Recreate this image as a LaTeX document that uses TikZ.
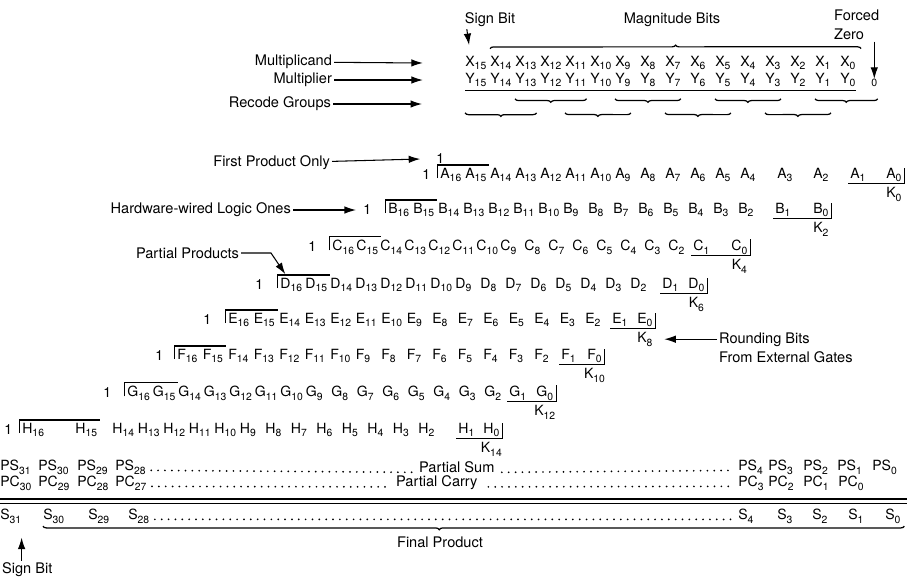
\documentclass[tikz,border=0pt]{standalone}
\usepackage{fontspec}
\setmainfont{TeX Gyre Heros}
\usetikzlibrary{arrows.meta, calc, decorations.pathreplacing}
\newcommand\bsub[1]{\raisebox{-0.5ex}{\fontsize{5.9}{6}\selectfont #1}}
\tikzset{
  bit/.style={inner sep=0pt, anchor=west, font=\fontsize{8}{9}\selectfont},
  lbl/.style={inner sep=1pt, font=\fontsize{8.3}{10}\selectfont},
  brk/.style={line width=0.6pt},
  ptr/.style={-{Latex[length=2.3mm,width=1.5mm]}, line width=0.6pt},
  dotrow/.style={line width=1.1pt, line cap=round, dash pattern=on 0pt off 3.9pt},
  grp/.style={decorate, decoration={brace, amplitude=2pt}, line width=0.7pt},
}

\begin{document}
\begin{tikzpicture}[x=0.02cm, y=-0.02cm]
  \useasboundingbox (0,0) rectangle (911,576);
  % operands
  \foreach \i in {15,...,0} {
    \node[bit] (x\i) at ({465+(15-\i)*25},63) {X\bsub{\i}};
    \node[bit] (y\i) at ({465+(15-\i)*25},80) {Y\bsub{\i}};
  }
  \node[bit, font=\fontsize{6}{7}\selectfont] (zero) at (871,83) {0};
  \node[lbl] (sgnt) at (490,20) {Sign Bit};
  \node[lbl] (magn) at (672,20) {Magnitude Bits};
  \node[lbl, anchor=north west, align=left, font=\fontsize{8.3}{10.6}\selectfont] (fz) at (832,8) {Forced\\Zero};
  \draw[ptr] ([xshift=2.3pt]sgnt.south west) -- ([xshift=2.3pt,yshift=6pt]x15.north west);
  \draw[ptr] (zero |- fz.south) -- (zero.north);
  \draw[grp] ([yshift=4pt]x14.north west) -- ([xshift=3pt,yshift=4pt]x0.north east);
  \draw[brk] ([yshift=-1.5pt]y15.south west) -- ([yshift=-1.5pt]y0.south east);
  \coordinate (zr) at (zero.east |- y0.south);
  \foreach \a/\b in {13/11,9/7,5/3} \draw[grp] ([yshift=-6.5pt]y\b.south east) -- ([yshift=-6.5pt]y\a.south west);
  \draw[grp] ([yshift=-6.5pt]zr) -- ([yshift=-6.5pt]y1.south west);
  \foreach \a/\b in {15/13,11/9,7/5,3/1} \draw[grp] ([yshift=-14.5pt]y\b.south east) -- ([yshift=-14.5pt]y\a.south west);
  \node[lbl, anchor=east] (mcand) at (334,62) {Multiplicand};
  \node[lbl, anchor=east] (mplier) at (334,80) {Multiplier};
  \node[lbl, anchor=east] (recode) at (333,104) {Recode Groups};
  \coordinate (recode-tip) at (422,104);
  \draw[ptr] (mcand) -- ([xshift=-24pt]x15.west);
  \draw[ptr] (mplier) -- ([xshift=-24pt]y15.west);
  \draw[ptr] (recode) -- (recode-tip);
  % partial products
  \node[bit] (onea) at (422,175) {1};
  \node[bit] (sup1) at (436,159) {1};
  \foreach \i in {16,...,4} \node[bit] (a\i) at ({440+(16-\i)*25},175) {A\bsub{\i}};
  \foreach \i/\xp in {3/777,2/813,1/850,0/886} \node[bit] (a\i) at (\xp,175) {A\bsub{\i}};
  \foreach \lt/\nm/\yy/\xo/\xs/\dx/\xa/\xb in {B/b/210/363/388/25/775/813, C/c/247/308/332/24/693/731,
      D/d/285/255/280/25/662/688, E/e/320/203/228/25.5/612/637, F/f/356/155/177/25.5/561/587,
      G/g/393/103/127/25.5/509/536} {
    \node[bit] (one\nm) at (\xo,\yy) {1};
    \foreach \i in {16,...,2} \node[bit] (\nm\i) at ({\xs+(16-\i)*\dx},\yy) {\lt\bsub{\i}};
    \node[bit] (\nm1) at (\xa,\yy) {\lt\bsub{1}};
    \node[bit] (\nm0) at (\xb,\yy) {\lt\bsub{0}};
  }
  \node[bit] (oneh) at (4,430) {1};
  \foreach \i/\xp in {16/22,15/75,1/458,0/483} \node[bit] (h\i) at (\xp,430) {H\bsub{\i}};
  \foreach \i in {14,...,2} \node[bit] (h\i) at ({112+(14-\i)*25.5},430) {H\bsub{\i}};
  \foreach \nm/\k in {a/0,b/2,c/4,d/6,e/8,f/10,g/12,h/14} {
    \draw[brk] ([xshift=-1.5pt]\nm16.base west) |- ([xshift=1.5pt,yshift=1.5pt]\nm15.north east);
    \draw[brk] ([xshift=-1pt,yshift=-0.5pt]\nm1.south west) -| ([xshift=1.5pt]\nm0.north east);
    \node[bit, anchor=north] (k\k) at ([yshift=-2.5pt]\nm0.south) {K\bsub{\k}};
  }
  \node[lbl, anchor=east] (fpo) at (332,163) {First Product Only};
  \draw[ptr] (fpo) -- ([xshift=-9pt]sup1.west);
  \node[lbl, anchor=east] (hwl) at (293,210) {Hardware-wired Logic Ones};
  \draw[ptr] (hwl) -- ([xshift=-4pt]oneb.west);
  \node[lbl, anchor=east] (pprod) at (241,253) {Partial Products};
  \draw[ptr] (pprod.east) -- ++(30,0) -- ([xshift=3pt,yshift=2pt]d16.north west);
  \node[lbl, anchor=west, align=left, font=\fontsize{8.3}{10.8}\selectfont] (rnd) at (717,348) {Rounding Bits\\From External Gates};
  \draw[ptr] (rnd.west |- k8) -- ([xshift=6.5pt]k8.east);
  % sums
  \foreach \i/\xp in {31/0,30/38,29/77,28/115,4/738,3/768,2/803,1/837,0/872} \node[bit] (ps\i) at (\xp,467) {PS\bsub{\i}};
  \foreach \i/\xp in {30/0,29/38,28/77,27/115,3/738,2/768,1/803,0/838} \node[bit] (pc\i) at (\xp,483) {PC\bsub{\i}};
  \foreach \i/\xp in {31/0,30/43,29/88,28/128,4/738,3/777,2/812,1/848,0/885} \node[bit] (s\i) at (\xp,516) {S\bsub{\i}};
  \node[lbl, anchor=west] (psum) at (417,467) {Partial Sum};
  \node[lbl, anchor=west] (pcar) at (394,483) {Partial Carry};
  \draw[dotrow] ([xshift=3pt]ps28.base east) -- ([xshift=-2pt]psum.base west);
  \draw[dotrow] ([xshift=3pt]psum.base east) -- ([xshift=-2pt]ps4.base west);
  \draw[dotrow] ([xshift=3pt]pc27.base east) -- ([xshift=-2pt]pcar.base west);
  \draw[dotrow] ([xshift=5pt]pcar.base east) -- ([xshift=-2pt]pc3.base west);
  \draw[dotrow] ([xshift=3pt]s28.base east) -- ([xshift=-2pt]s4.base west);
  \draw[line width=1pt] (0,499) -- (907,499);
  \draw[line width=0.5pt] (0,503.5) -- (907,503.5);
  \draw[grp, decoration={aspect=0.54}] ([xshift=2pt,yshift=-1.5pt]s0.south east) -- ([yshift=-1.5pt]s30.south west);
  \node[lbl] (fprod) at (440,542) {Final Product};
  \node[lbl, anchor=west] (sgnb) at (0,570) {Sign Bit};
  \draw[ptr] (sgnb.north -| s31.east) -- ([yshift=-8pt]s31.south east);
\end{tikzpicture}
\end{document}
